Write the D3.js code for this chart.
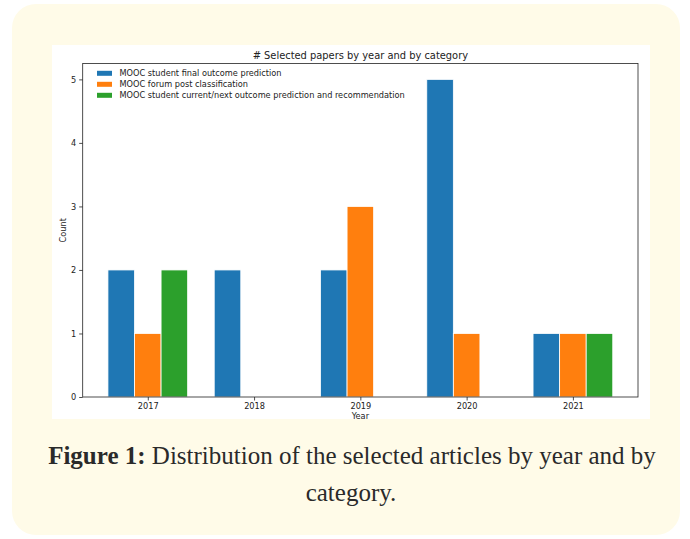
<!DOCTYPE html>
<html>
<head>
<meta charset="utf-8">
<script src="https://cdn.jsdelivr.net/npm/d3@7"></script>
<style>
  html, body { margin: 0; padding: 0; background: #ffffff; }
  svg { display: block; }
</style>
</head>
<body>
<svg id="fig" width="690" height="539"></svg>
<script>
// Years on the x axis and the three paper categories
const years = ["2017", "2018", "2019", "2020", "2021"];
const seriesNames = [
  "MOOC student final outcome prediction",
  "MOOC forum post classification",
  "MOOC student current/next outcome prediction and recommendation"
];
const finalOutcome = [2, 2, 2, 5, 1];
const forumPosts   = [1, 0, 3, 1, 1];
const currentNext  = [2, 0, 0, 0, 1];
const seriesColors = ["#1f77b4", "#ff7f0e", "#2ca02c"];
const yTicks = [0, 1, 2, 3, 4, 5];

const series = [finalOutcome, forumPosts, currentNext];

const svg = d3.select("#fig");

// Card behind the figure and its caption
svg.append("rect")
  .attr("x", 12).attr("y", 4)
  .attr("width", 668).attr("height", 531)
  .attr("rx", 24).attr("ry", 24)
  .attr("fill", "#fffbe8");

// White plot image
svg.append("rect")
  .attr("x", 52).attr("y", 45)
  .attr("width", 598).attr("height", 374)
  .attr("fill", "#ffffff");

const plot = { left: 82.7, right: 638, top: 63.5, bottom: 397 };
const barW = 0.25;

// Numeric x scale: category index with matplotlib-style margins
const x = d3.scaleLinear()
  .domain([-0.6125, years.length - 1 + 0.6125])
  .range([plot.left, plot.right]);
const y = d3.scaleLinear()
  .domain([0, 5.25])
  .range([plot.bottom, plot.top]);

const font = "DejaVu Sans, sans-serif";
const g = svg.append("g");

// Bars
series.forEach((vals, s) => {
  const off = (s - 1) * barW;
  g.selectAll(null)
    .data(vals.map((v, i) => ({ v, i })).filter(d => d.v > 0))
    .enter().append("rect")
    .attr("x", d => x(d.i + off - barW / 2))
    .attr("width", d => x(barW) - x(0))
    .attr("y", d => y(d.v))
    .attr("height", d => y(0) - y(d.v))
    .attr("fill", seriesColors[s])
    .attr("stroke", "#ffffff")
    .attr("stroke-width", 0.8);
});

// Axes
const xAxis = d3.axisBottom(x)
  .tickValues(d3.range(years.length))
  .tickFormat(i => years[i])
  .tickSize(3.5).tickPadding(3);
const yAxis = d3.axisLeft(y)
  .tickValues(yTicks)
  .tickFormat(d3.format("d"))
  .tickSize(3.5).tickPadding(3);

const gx = g.append("g").attr("transform", `translate(0,${plot.bottom})`).call(xAxis);
const gy = g.append("g").attr("transform", `translate(${plot.left},0)`).call(yAxis);
[gx, gy].forEach(ax => {
  ax.select(".domain").remove();
  ax.selectAll(".tick line").attr("stroke", "#222").attr("stroke-width", 0.8);
  ax.selectAll(".tick text").attr("fill", "#222")
    .style("font-family", font).style("font-size", "8.2px");
});

// Frame
g.append("rect")
  .attr("x", plot.left).attr("y", plot.top)
  .attr("width", plot.right - plot.left).attr("height", plot.bottom - plot.top)
  .attr("fill", "none").attr("stroke", "#222").attr("stroke-width", 0.8);

// Title and axis labels
g.append("text")
  .attr("x", (plot.left + plot.right) / 2).attr("y", 59)
  .attr("text-anchor", "middle")
  .style("font-family", font).style("font-size", "9.9px").attr("fill", "#222")
  .text("# Selected papers by year and by category");
g.append("text")
  .attr("x", (plot.left + plot.right) / 2).attr("y", 418.5)
  .attr("text-anchor", "middle")
  .style("font-family", font).style("font-size", "8.2px").attr("fill", "#222")
  .text("Year");
g.append("text")
  .attr("transform", `translate(66,${(plot.top + plot.bottom) / 2}) rotate(-90)`)
  .attr("text-anchor", "middle")
  .style("font-family", font).style("font-size", "8.2px").attr("fill", "#222")
  .text("Count");

// Legend
const legend = g.append("g");
seriesNames.forEach((name, s) => {
  const ly = 73.3 + s * 11;
  legend.append("rect")
    .attr("x", 97).attr("y", ly - 2.5)
    .attr("width", 15).attr("height", 5)
    .attr("fill", seriesColors[s]);
  legend.append("text")
    .attr("x", 119.5).attr("y", ly + 3)
    .style("font-family", font).style("font-size", "8.2px").attr("fill", "#222")
    .text(name);
});

// Caption
const cap = svg.append("g")
  .style("font-family", "Liberation Serif, serif").style("font-size", "25px")
  .attr("fill", "#2a2a2a");
const line1 = cap.append("text")
  .attr("x", 352).attr("y", 464)
  .attr("text-anchor", "middle");
line1.append("tspan").style("font-weight", "bold").text("Figure 1:");
line1.append("tspan").text(" Distribution of the selected articles by year and by");
cap.append("text")
  .attr("x", 351).attr("y", 501)
  .attr("text-anchor", "middle")
  .text("category.");
</script>
</body>
</html>
